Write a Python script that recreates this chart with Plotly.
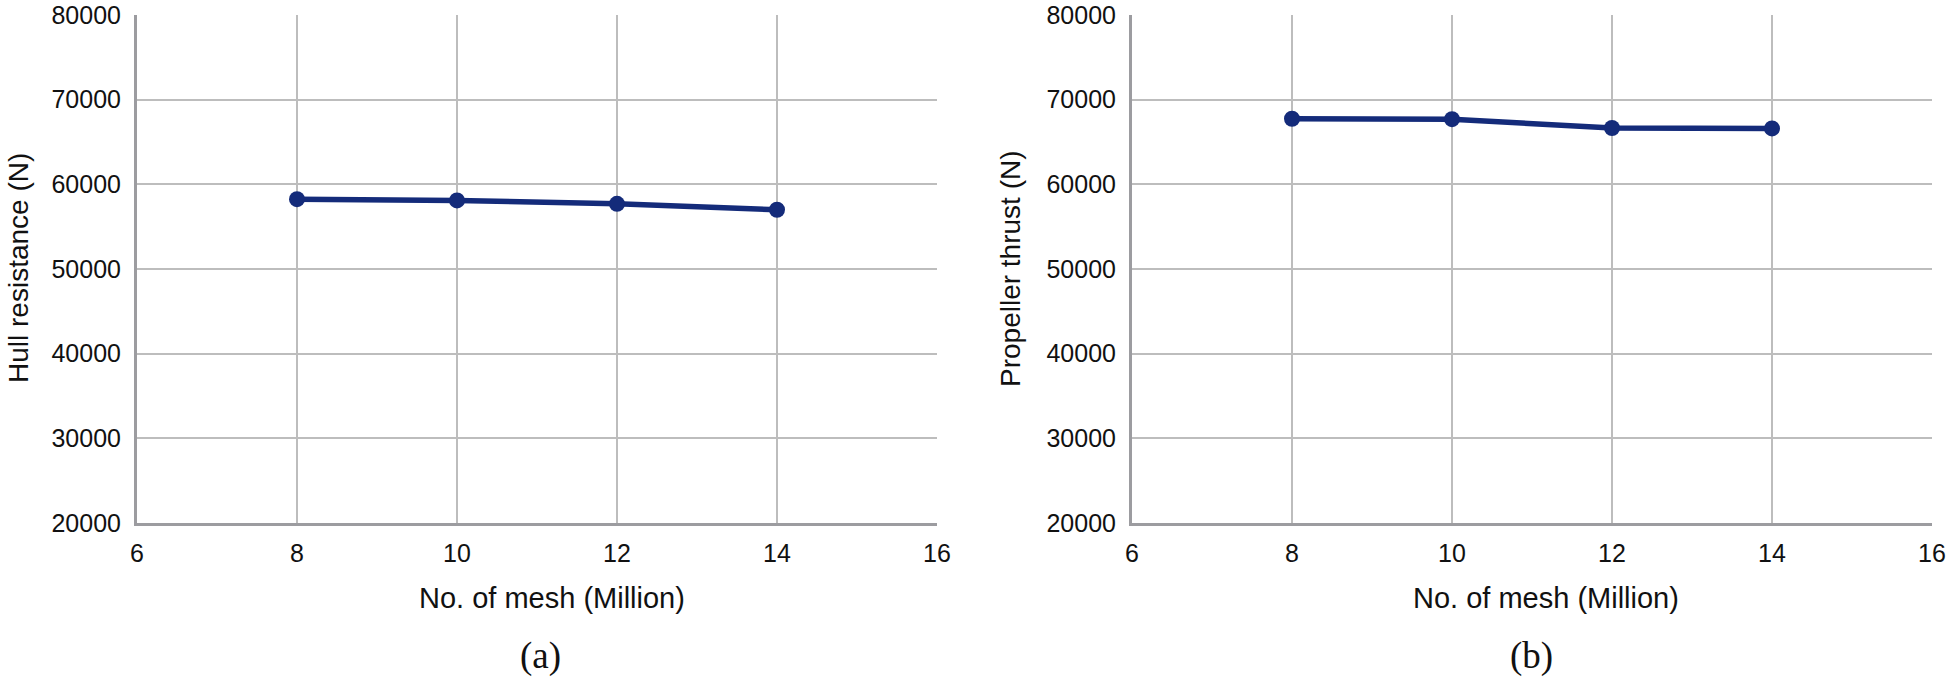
import plotly.graph_objects as go

W, H = 1950, 680

mesh_millions = [8, 10, 12, 14]
hull_resistance = [58250, 58100, 57700, 57000]
propeller_thrust = [67750, 67700, 66650, 66600]

x_ticks = [6, 8, 10, 12, 14, 16]
y_ticks = [20000, 30000, 40000, 50000, 60000, 70000, 80000]
y_tick_labels = [str(v) for v in y_ticks]

line_color = "#142b7a"
grid_color = "#bdbdbd"
axis_color = "#9c9ca0"
sans = "Liberation Sans, Arial, Helvetica, sans-serif"
serif = "Liberation Serif, Times New Roman, serif"

fig = go.Figure()
fig.add_trace(go.Scatter(x=mesh_millions, y=hull_resistance, mode="lines+markers",
                         line=dict(color=line_color, width=5.5),
                         marker=dict(color=line_color, size=16),
                         xaxis="x", yaxis="y", showlegend=False))
fig.add_trace(go.Scatter(x=mesh_millions, y=propeller_thrust, mode="lines+markers",
                         line=dict(color=line_color, width=5.5),
                         marker=dict(color=line_color, size=16),
                         xaxis="x2", yaxis="y2", showlegend=False))

def px(x):
    return x / W

def py(y):
    return 1 - y / H

ydom = [py(523), py(15)]
xdom1 = [px(137), px(937)]
xdom2 = [px(1132), px(1932)]

xcommon = dict(range=[6, 16], tickvals=x_ticks, ticktext=[str(v) for v in x_ticks],
               showgrid=True, gridcolor=grid_color, gridwidth=2,
               showline=True, linecolor=axis_color, linewidth=3, zeroline=False,
               ticks="", ticklabelstandoff=6, automargin=False, ticklabeloverflow="allow",
               tickfont=dict(family=sans, size=25, color="#111"))
ycommon = dict(range=[20000, 80000], tickvals=y_ticks, ticktext=y_tick_labels,
               showgrid=True, gridcolor=grid_color, gridwidth=2,
               showline=True, linecolor=axis_color, linewidth=3, zeroline=False,
               ticks="", ticklabelstandoff=8, automargin=False, ticklabeloverflow="allow",
               tickfont=dict(family=sans, size=25, color="#111"))

fig.update_layout(
    width=W, height=H,
    margin=dict(l=0, r=0, t=0, b=0, autoexpand=False),
    paper_bgcolor="white", plot_bgcolor="white",
    xaxis=dict(domain=xdom1, anchor="y", **xcommon),
    yaxis=dict(domain=ydom, anchor="x", **ycommon),
    xaxis2=dict(domain=xdom2, anchor="y2", **xcommon),
    yaxis2=dict(domain=ydom, anchor="x2", **ycommon),
)

ann = [
    dict(text="Hull resistance (N)", x=px(19), y=py(268), textangle=-90, size=28, fam=sans),
    dict(text="Propeller thrust (N)", x=px(1011), y=py(268), textangle=-90, size=28, fam=sans),
    dict(text="No. of mesh (Million)", x=px(552), y=py(598), textangle=0, size=29, fam=sans),
    dict(text="No. of mesh (Million)", x=px(1546), y=py(598), textangle=0, size=29, fam=sans),
    dict(text="(a)", x=px(540), y=py(656), textangle=0, size=37, fam=serif),
    dict(text="(b)", x=px(1531), y=py(656), textangle=0, size=37, fam=serif),
]
for a in ann:
    fig.add_annotation(text=a["text"], x=a["x"], y=a["y"], xref="paper", yref="paper",
                       xanchor="center", yanchor="middle", showarrow=False,
                       textangle=a["textangle"],
                       font=dict(family=a["fam"], size=a["size"], color="#111"))

fig.write_html("out.html", config={"displayModeBar": False},
               post_script="document.body.style.margin='0px';document.body.style.overflow='hidden';")
